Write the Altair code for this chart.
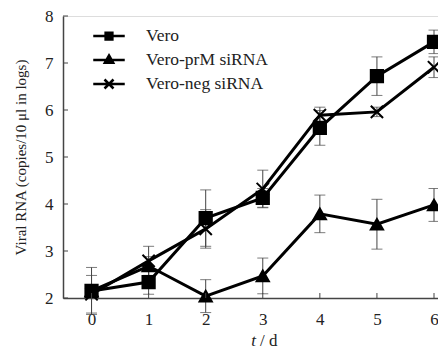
import altair as alt
import pandas as pd

days = [0, 1, 2, 3, 4, 5, 6]
series_names = ["Vero", "Vero-prM siRNA", "Vero-neg siRNA"]
vero = [2.15, 2.34, 3.70, 4.13, 5.62, 6.72, 7.45]
vero_err = [0.5, 0.26, 0.6, 0.2, 0.37, 0.41, 0.25]
prm = [2.15, 2.68, 2.04, 2.47, 3.79, 3.57, 3.98]
prm_err = [0.1, 0.2, 0.35, 0.38, 0.4, 0.53, 0.35]
neg = [2.08, 2.79, 3.47, 4.32, 5.89, 5.96, 6.91]
neg_err = [0.4, 0.31, 0.41, 0.4, 0.17, 0.1, 0.22]
y_ticks = [2, 3, 4, 5, 6, 7, 8]

rows = []
for name, vals, errs in zip(series_names, [vero, prm, neg], [vero_err, prm_err, neg_err]):
    for d, v, e in zip(days, vals, errs):
        rows.append({"day": d, "series": name, "value": v, "lo": v - e, "hi": v + e})
df = pd.DataFrame(rows)

W, H = 375, 282
FONT = "Liberation Serif"
AX = "#444"

xs = alt.Scale(domain=[-0.5, 6.07], nice=False, zero=False)
ys = alt.Scale(domain=[2, 8], nice=False, zero=False)

x_enc = alt.X("day:Q", scale=xs,
              axis=alt.Axis(values=days, format="d", title=None, grid=False, tickSize=0,
                            labelPadding=13, labelFontSize=17, labelFont=FONT,
                            labelColor="#222", domainColor=AX, domainWidth=1.5))
y_enc = alt.Y("value:Q", scale=ys,
              axis=alt.Axis(values=y_ticks, format="d", title="Viral RNA (copies/10 μl in logs)",
                            grid=False, tickSize=0, labelPadding=10, labelFontSize=17,
                            labelFont=FONT, labelColor="#222", titleFont=FONT,
                            titleFontSize=15, titleFontWeight="normal", titleColor="#222",
                            titlePadding=16, domainColor=AX, domainWidth=1.5))

base = alt.Chart(df)

errs = base.mark_rule(color=AX, strokeWidth=1).encode(
    x=x_enc, y=alt.Y("lo:Q", scale=ys), y2="hi:Q")
cap_lo = base.mark_tick(color=AX, thickness=1, size=11, orient="horizontal").encode(
    x="day:Q", y=alt.Y("lo:Q", scale=ys))
cap_hi = base.mark_tick(color=AX, thickness=1, size=11, orient="horizontal").encode(
    x="day:Q", y=alt.Y("hi:Q", scale=ys))

lines = base.mark_line(color="black", strokeWidth=3).encode(
    x=x_enc, y=y_enc, detail="series:N")

marker_paths = ["square", "triangle-up", "M-1,-1L1,1M-1,1L1,-1"]
points = base.mark_point(filled=True, fill="black", stroke="black", strokeWidth=2,
                         opacity=1, size=150).encode(
    x="day:Q", y="value:Q",
    shape=alt.Shape("series:N", scale=alt.Scale(domain=series_names, range=marker_paths),
                    legend=None))

# legend glyphs: line + marker; solid markers made of nested outlines
legend_paths = [
    "M-2.1,0H2.1M-0.45,-0.45H0.45V0.45H-0.45ZM-0.15,-0.15H0.15V0.15H-0.15Z",
    "M-2.1,0H2.1M0,-0.6L0.55,0.35H-0.55ZM0,-0.283L0.275,0.192H-0.275Z",
    "M-2.1,0H2.1M-0.6,-0.6L0.6,0.6M-0.6,0.6L0.6,-0.6",
]
# legend-only layer: no rows drawn, the explicit scale domain gives the entries
legend_layer = base.transform_filter("datum.day < -100").mark_point(
    filled=False, color="black", strokeWidth=2.5, opacity=1, size=225).encode(
    x="day:Q", y="value:Q",
    shape=alt.Shape("series:N", scale=alt.Scale(domain=series_names, range=legend_paths),
                    legend=alt.Legend(title=None, orient="none", legendX=37, legendY=11,
                                      symbolStrokeColor="black", symbolStrokeWidth=2.5,
                                      symbolSize=225, labelFont=FONT, labelFontSize=17.5,
                                      labelColor="#222", labelOffset=28, rowPadding=5,
                                      padding=0)))

ytick_df = pd.DataFrame({"v": y_ticks})
ytk = alt.Chart(ytick_df).mark_rule(color=AX, strokeWidth=1).encode(
    y=alt.Y("v:Q", scale=ys), x=alt.value(0), x2=alt.value(5))
xtick_df = pd.DataFrame({"d": days})
xtk = alt.Chart(xtick_df).mark_rule(color=AX, strokeWidth=1).encode(
    x=alt.X("d:Q", scale=xs), y=alt.value(H), y2=alt.value(H - 5))

t_txt = alt.Chart(pd.DataFrame({"s": ["t"]})).mark_text(
    font=FONT, fontSize=17, fontStyle="italic", align="right", baseline="alphabetic",
    color="#222").encode(text="s:N", x=alt.value(193), y=alt.value(H + 48))
d_txt = alt.Chart(pd.DataFrame({"s": ["/ d"]})).mark_text(
    font=FONT, fontSize=17, align="left", baseline="alphabetic",
    color="#222").encode(text="s:N", x=alt.value(197), y=alt.value(H + 48))

chart = alt.layer(errs, cap_lo, cap_hi, lines, points, legend_layer, ytk, xtk, t_txt, d_txt).resolve_scale(
    shape="independent").properties(
    width=W, height=H, autosize=alt.AutoSizeParams(type="none"),
    padding={"left": 55, "top": 8, "right": 0, "bottom": 54}
).configure_view(stroke=None).configure(background="white")

chart.save("out.html", embed_options={"renderer": "svg", "actions": False})
